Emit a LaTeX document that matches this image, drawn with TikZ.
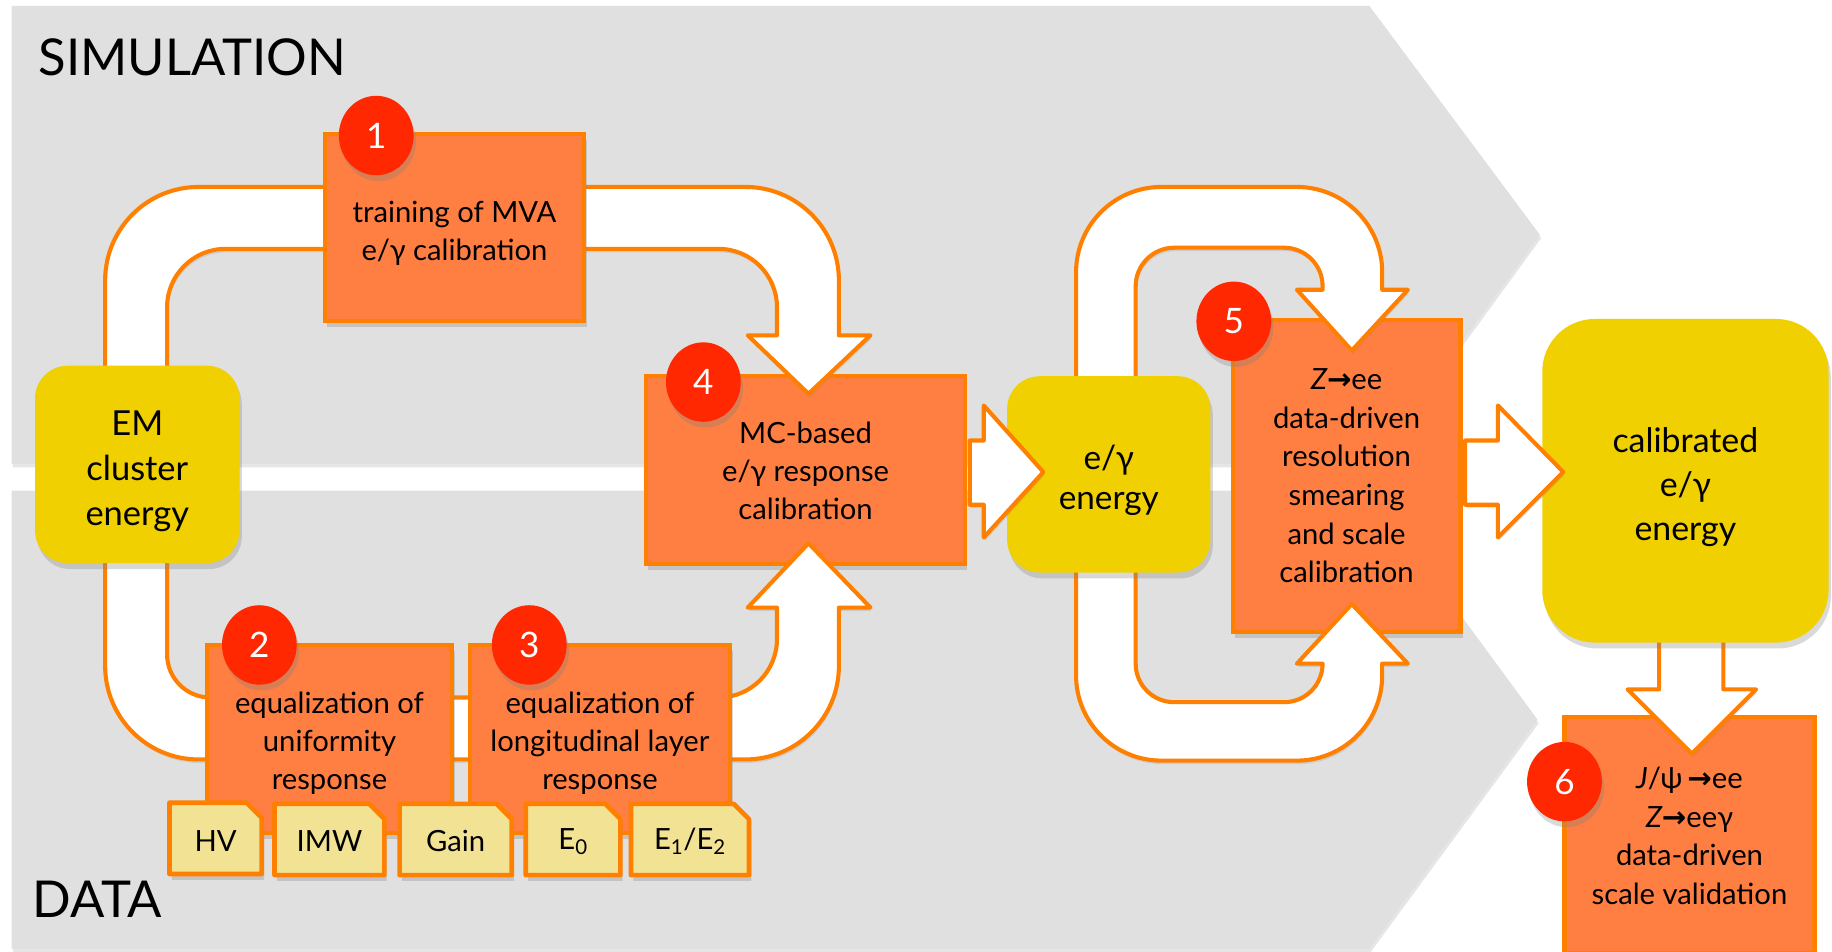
\documentclass[tikz,border=0pt]{standalone}
\usepackage{fontspec}
\setmainfont{Lato}
\newfontfamily\symf{DejaVu Sans}
\usetikzlibrary{shadows,shapes.geometric}
\definecolor{bandgray}{RGB}{224,224,224}
\definecolor{boxor}{RGB}{255,126,66}
\definecolor{edgeor}{RGB}{255,128,0}
\definecolor{badgered}{RGB}{255,40,0}
\definecolor{emyel}{RGB}{240,208,0}
\definecolor{tagyel}{RGB}{242,226,148}
\newcommand{\rarr}{{\symf\bfseries →}}
\newcommand{\tx}[2]{\raisebox{#1}[\height][\depth]{\begin{tabular}{@{}c@{}}#2\end{tabular}}}
\begin{document}
\begin{tikzpicture}[x=1pt,y=-1pt,
  shd/.style={drop shadow={shadow xshift=2pt,shadow yshift=-5pt,opacity=0.3}},
  lshd/.style={drop shadow={shadow xshift=1pt,shadow yshift=-3pt,opacity=0.2}},
  orbox/.style={draw=edgeor, line width=3.5pt, fill=boxor, inner sep=0pt,
    font=\fontsize{25}{32.5}\selectfont, shd},
  yelbox/.style={fill=emyel, rounded corners=28pt, inner sep=0pt, shd},
  badge/.style={ellipse, fill=badgered, minimum width=64pt, minimum height=68pt, inner sep=0pt,
    text=white, font=\fontsize{30}{30}\selectfont, shd},
  bigarrow/.style={fill=white, draw=edgeor, line width=3.5pt, line join=round, lshd},
  tagshape/.style={fill=tagyel, draw=edgeor, line width=4pt, line join=round, shd},
  tagtext/.style={font=\fontsize{25}{25}\selectfont, inner sep=0pt},
  bandtitle/.style={anchor=west, font=\fontsize{43.5}{43.5}\selectfont, inner sep=0pt}
]
\useasboundingbox (0,0) rectangle (1568,814);
% background bands
\fill[bandgray, lshd] (10,5) -- (1172,5) -- (1318,201) -- (1175,397) -- (10,397) -- cycle;
\fill[bandgray, lshd] (10,420) -- (1172,420) -- (1316,616) -- (1172,812) -- (10,812) -- cycle;
\node[bandtitle] (sim) at (33,49) {SIMULATION};
\node[bandtitle] (data) at (28,770) {DATA};

% target boxes
\node[orbox, minimum width=273pt, minimum height=161pt] (b4) at (689.5,402.5) {\tx{-3pt}{MC-based\\e/γ response\\calibration}};
\node[orbox, minimum width=195pt, minimum height=267pt, font=\fontsize{25}{33}\selectfont] (b5) at (1152.5,407.5)
  {\tx{-2pt}{{\itshape Z}\rarr ee\\data-driven\\resolution\\smearing\\and scale\\calibration}};
\node[orbox, minimum width=214pt, minimum height=202pt, font=\fontsize{25}{33}\selectfont] (b6) at (1446,715)
  {\tx{-3pt}{{\itshape J}/ψ\,\rarr ee\\{\itshape Z}\rarr eeγ\\data-driven\\scale validation}};

% left loops
\filldraw[bigarrow] (143,330) -- (143,263) arc[start angle=180,end angle=270,radius=50]
  -- (615,213) arc[start angle=270,end angle=360,radius=50]
  -- (665,287) -- (640,287) -- (692,337) -- (745,287) -- (718,287) -- (718,240)
  arc[start angle=0,end angle=-90,radius=80] -- (170,160)
  arc[start angle=270,end angle=180,radius=80] -- (90,330) -- cycle;
\filldraw[bigarrow] (143,470) -- (143,560) arc[start angle=180,end angle=90,radius=37]
  -- (615,597) arc[start angle=90,end angle=0,radius=50]
  -- (665,520) -- (640,520) -- (692,465) -- (745,520) -- (718,520) -- (718,570)
  arc[start angle=0,end angle=90,radius=80] -- (170,650)
  arc[start angle=90,end angle=180,radius=80] -- (90,470) -- cycle;
\node[yelbox, minimum width=175pt, minimum height=169pt, font=\fontsize{29.5}{38.5}\selectfont] (em) at (117.5,397.5) {\tx{-6pt}{EM\\cluster\\energy}};

% right loops
\filldraw[bigarrow] (972,335) -- (972,245) arc[start angle=180,end angle=270,radius=33]
  -- (1099,212) arc[start angle=270,end angle=360,radius=33]
  -- (1132,248) -- (1110,248) -- (1157,300) -- (1205,248) -- (1183,248) -- (1183,233)
  arc[start angle=0,end angle=-90,radius=73] -- (994,160)
  arc[start angle=270,end angle=180,radius=73] -- (921,335) -- cycle;
\filldraw[bigarrow] (972,480) -- (972,568) arc[start angle=180,end angle=90,radius=33]
  -- (1099,601) arc[start angle=90,end angle=0,radius=33]
  -- (1132,568) -- (1110,568) -- (1157,517) -- (1205,568) -- (1183,568) -- (1183,578)
  arc[start angle=0,end angle=90,radius=73] -- (994,651)
  arc[start angle=90,end angle=180,radius=73] -- (921,480) -- cycle;
\node[yelbox, minimum width=174pt, minimum height=168pt, font=\fontsize{28.5}{35}\selectfont] (eg) at (949,406) {\tx{-6pt}{e/γ\\energy}};

% straight arrows
\filldraw[bigarrow] (830,377) -- (842,377) -- (842,347) -- (893,404) -- (842,460) -- (842,432) -- (830,432) -- cycle;
\filldraw[bigarrow] (1420,540) -- (1420,590) -- (1393,590) -- (1448,645) -- (1503,590) -- (1475,590) -- (1475,540) -- cycle;
\node[yelbox, rounded corners=45pt, minimum width=245pt, minimum height=277pt, font=\fontsize{29}{37.5}\selectfont] (cal) at (1442.5,411.5) {\tx{-6pt}{calibrated\\e/γ\\energy}};
\filldraw[bigarrow] (1254,377) -- (1282,377) -- (1282,347) -- (1338,404) -- (1282,460) -- (1282,432) -- (1254,432) -- cycle;

% upper/lower process boxes
\node[orbox, minimum width=222pt, minimum height=160pt] (b1) at (389,195) {\tx{-5pt}{training of MVA\\e/γ calibration}};
\node[orbox, minimum width=210pt, minimum height=161pt] (b2) at (282,632.5) {\tx{-4pt}{equalization of\\uniformity\\response}};
\node[orbox, minimum width=223pt, minimum height=161pt] (b3) at (513.5,632.5) {\tx{-4pt}{equalization of\\longitudinal layer\\response}};

% tags
\filldraw[tagshape] (145,687) -- (211,687) -- (224,700) -- (224,748) -- (145,748) -- cycle;
\node[tagtext] (hv) at (184.5,720) {HV};
\filldraw[tagshape] (235,688) -- (316,688) -- (329,701) -- (329,749) -- (235,749) -- cycle;
\node[tagtext] (imw) at (282,720) {IMW};
\filldraw[tagshape] (342,688) -- (425,688) -- (438,701) -- (438,749) -- (342,749) -- cycle;
\node[tagtext] (gain) at (390,720) {Gain};
\filldraw[tagshape] (450,688) -- (518,688) -- (531,701) -- (531,749) -- (450,749) -- cycle;
\node[tagtext] (e0) at (490.5,720) {E\textsubscript{0}};
\filldraw[tagshape] (540,688) -- (628,688) -- (641,701) -- (641,749) -- (540,749) -- cycle;
\node[tagtext] (e12) at (590.5,720) {E\textsubscript{1}/E\textsubscript{2}};

% badges
\node[badge] (n1) at (322,116) {1};
\node[badge] (n2) at (222,552) {2};
\node[badge] (n3) at (453,552) {3};
\node[badge] (n4) at (602,327) {4};
\node[badge] (n5) at (1056,275) {5};
\node[badge] (n6) at (1339,669) {6};
\end{tikzpicture}
\end{document}
